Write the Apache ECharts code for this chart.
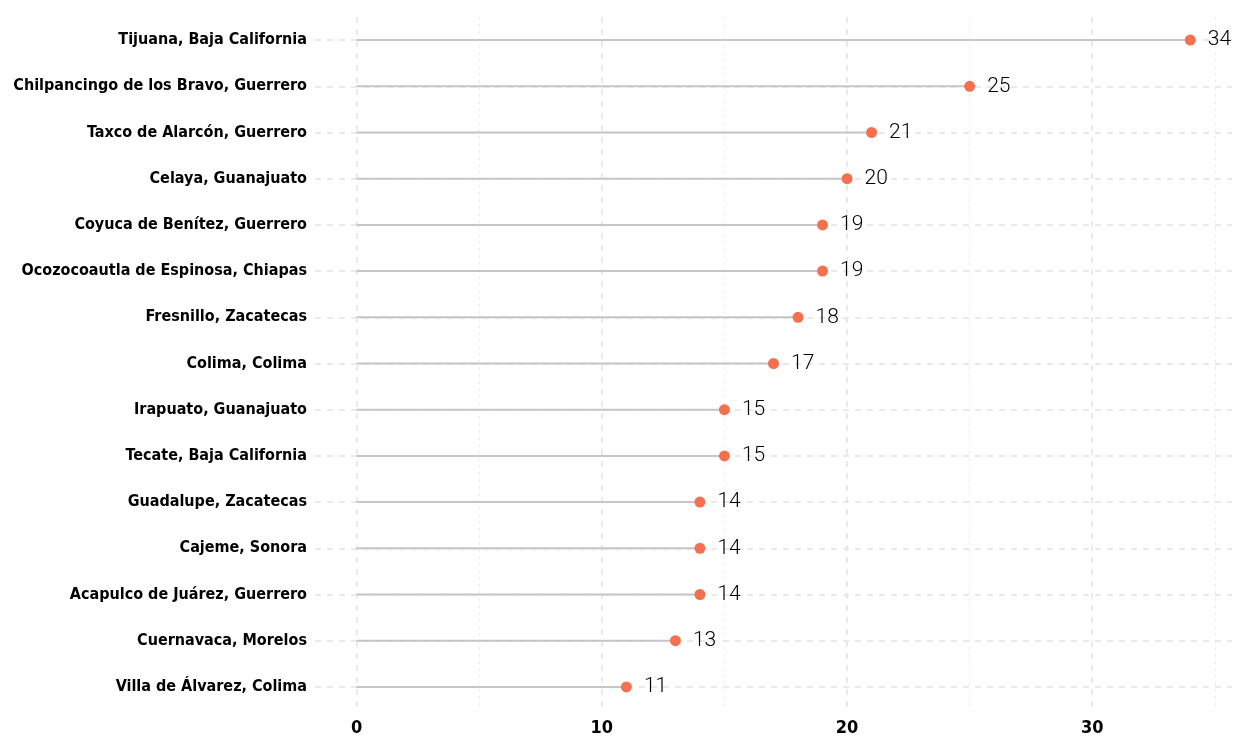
<!DOCTYPE html>
<html><head><meta charset="utf-8">
<script src="https://cdn.jsdelivr.net/npm/echarts@6/dist/echarts.min.js"></script>
<style>html,body{margin:0;padding:0;background:#fff}#c{width:1238px;height:740px}</style>
</head><body><div id="c"></div>
<script>
const categories = [
  "Tijuana, Baja California",
  "Chilpancingo de los Bravo, Guerrero",
  "Taxco de Alarcón, Guerrero",
  "Celaya, Guanajuato",
  "Coyuca de Benítez, Guerrero",
  "Ocozocoautla de Espinosa, Chiapas",
  "Fresnillo, Zacatecas",
  "Colima, Colima",
  "Irapuato, Guanajuato",
  "Tecate, Baja California",
  "Guadalupe, Zacatecas",
  "Cajeme, Sonora",
  "Acapulco de Juárez, Guerrero",
  "Cuernavaca, Morelos",
  "Villa de Álvarez, Colima"
];
const values = [34, 25, 21, 20, 19, 19, 18, 17, 15, 15, 14, 14, 14, 13, 11];
const majorTicks = [0, 10, 20, 30];
const minorTicks = [5, 15, 25, 35];

const gridColor = '#e3e3e3';
const condFont = "'DejaVu Sans Condensed', 'DejaVu Sans', sans-serif";
const chart = echarts.init(document.getElementById('c'));
chart.setOption({
  animation: false,
  backgroundColor: '#fff',
  grid: { left: 315, right: 6, top: 17, bottom: 30, containLabel: false, outerBoundsMode: 'none' },
  xAxis: {
    type: 'value', min: -1.7, max: 35.7,
    axisLine: { show: false }, axisTick: { show: false }, splitLine: { show: false },
    axisLabel: {
      customValues: majorTicks, showMinLabel: true, showMaxLabel: true,
      fontFamily: condFont, fontWeight: 'bold', fontSize: 18, color: '#000', margin: 9
    }
  },
  yAxis: {
    type: 'category', data: categories, inverse: true,
    axisLine: { show: false }, axisTick: { show: false }, splitLine: { show: false },
    axisLabel: { fontFamily: condFont, fontWeight: 'bold', fontSize: 16, color: '#000', margin: 8 }
  },
  series: [
    {
      type: 'bar', data: values, barWidth: 2, silent: true,
      itemStyle: { color: '#c6c6c6' }, z: 2,
      markLine: {
        silent: true, symbol: 'none', label: { show: false }, z: 1,
        data: [
          ...majorTicks.map(v => ({ xAxis: v, lineStyle: { color: gridColor, width: 1.5, type: [6, 6] } })),
          ...minorTicks.map(v => ({ xAxis: v, lineStyle: { color: '#ececec', width: 1, type: [3, 4] } })),
          ...categories.map(c => ({ yAxis: c, lineStyle: { color: gridColor, width: 1.5, type: [6, 6] } }))
        ]
      }
    },
    {
      type: 'scatter', data: values, symbolSize: 11, z: 3,
      itemStyle: { color: '#F4704F', opacity: 1 },
      label: {
        show: true, position: 'right', distance: 12,
        fontFamily: 'Roboto', fontWeight: 300, fontSize: 21, color: '#000'
      }
    }
  ]
});
</script>
</body></html>
